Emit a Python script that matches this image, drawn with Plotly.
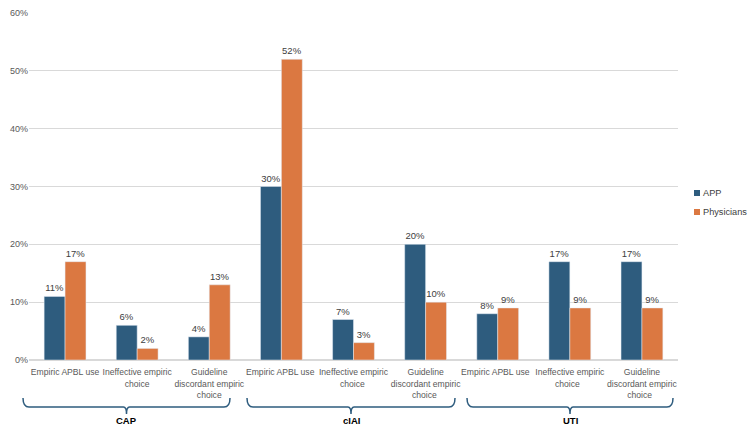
import plotly.graph_objects as go

categories = [
    "Empiric APBL use", "Ineffective empiric<br>choice", "Guideline<br>discordant empiric<br>choice",
    "Empiric APBL use ", "Ineffective empiric<br>choice ", "Guideline<br>discordant empiric<br>choice ",
    "Empiric APBL use  ", "Ineffective empiric<br>choice  ", "Guideline<br>discordant empiric<br>choice  ",
]
app_vals = [11, 6, 4, 30, 7, 20, 8, 17, 17]
phys_vals = [17, 2, 13, 52, 3, 10, 9, 9, 9]
groups = ["CAP", "cIAI", "UTI"]
series = ["APP", "Physicians"]

APP_C = "#2E5C7E"
PHY_C = "#DB7841"
FONT = "Liberation Sans, Arial, sans-serif"

fig = go.Figure()
for name, vals, col in [(series[0], app_vals, APP_C), (series[1], phys_vals, PHY_C)]:
    fig.add_trace(go.Bar(name=name, x=categories, y=[v / 100 for v in vals],
                         marker_color=col, text=[f"{v}%" for v in vals],
                         textposition="outside", cliponaxis=False, showlegend=False,
                         textfont=dict(size=9.5, color="#404040", family=FONT)))

W, H = 748, 426
L, R, T, B = 29, 70, 13, 66
pw, ph = W - L - R, H - T - B


def px(x):
    return (x - L) / pw


def py(y):
    return (H - B - y) / ph


shapes = []
annotations = []
braces = [(23, 230), (247, 455), (467, 673)]
yTop, yH, yTip = 398, 407, 414
for (xl, xr), g in zip(braces, groups):
    xc = (xl + xr) / 2
    path = (f"M {px(xl)},{py(yTop)} Q {px(xl)},{py(yH)} {px(xl + 6)},{py(yH)} "
            f"L {px(xc - 3)},{py(yH)} Q {px(xc)},{py(yH)} {px(xc)},{py(yTip)} "
            f"Q {px(xc)},{py(yH)} {px(xc + 3)},{py(yH)} "
            f"L {px(xr - 6)},{py(yH)} Q {px(xr)},{py(yH)} {px(xr)},{py(yTop)}")
    shapes.append(dict(type="path", path=path, xref="paper", yref="paper",
                       line=dict(color="#2E5C7E", width=1.5)))
    annotations.append(dict(text=f"<b>{g}</b>", x=px(xc), y=py(420), xref="paper", yref="paper",
                            showarrow=False, font=dict(size=9.5, color="#000000", family=FONT),
                            xanchor="center", yanchor="middle"))

# manual legend (small squares + labels)
for i, (name, col) in enumerate([(series[0], APP_C), (series[1], PHY_C)]):
    yc = 193 + 19 * i
    shapes.append(dict(type="rect", xref="paper", yref="paper",
                       x0=px(694), x1=px(700), y0=py(yc + 3), y1=py(yc - 3),
                       fillcolor=col, line=dict(width=0)))
    annotations.append(dict(text=name, x=px(701), y=py(yc), xref="paper", yref="paper",
                            showarrow=False, xanchor="left", yanchor="middle",
                            font=dict(size=9.2, color="#404040", family=FONT)))

fig.update_layout(
    width=W, height=H,
    margin=dict(l=L, r=R, t=T, b=B, autoexpand=False),
    plot_bgcolor="white", paper_bgcolor="white",
    barmode="group", bargap=0.42, bargroupgap=0,
    font=dict(family=FONT, color="#595959", size=9),
    showlegend=False,
    shapes=shapes,
    annotations=annotations,
)
fig.update_xaxes(tickfont=dict(size=8.6, color="#595959", family=FONT), tickangle=0,
                 showline=True, linecolor="#D9D9D9", linewidth=1, ticks="", automargin=False,
                 ticklabelstandoff=4)
fig.update_yaxes(range=[0, 0.6], tickformat=".0%", dtick=0.1,
                 showgrid=True, gridcolor="#D9D9D9", gridwidth=1,
                 zeroline=True, zerolinecolor="#D9D9D9", automargin=False,
                 tickfont=dict(size=9, color="#595959", family=FONT), ticks="")

fig.write_html("out.html")
